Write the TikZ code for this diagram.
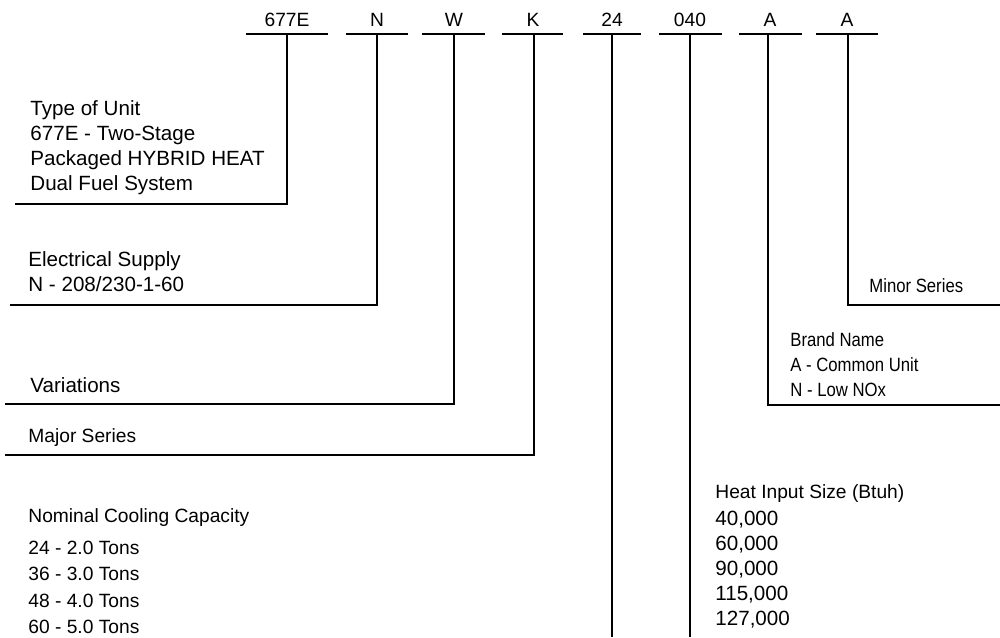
\documentclass[tikz,border=0pt]{standalone}
\usepackage{fontspec}
\setmainfont{Liberation Sans}
\newfontfamily\narrowfont[FakeStretch=0.87]{Liberation Sans}
\begin{document}
\begin{tikzpicture}[x=0.5pt,y=-0.5pt,
  code/.style={anchor=base,inner sep=0pt,font=\fontsize{9.6pt}{11pt}\selectfont},
  desc/.style={anchor=base west,inner sep=0pt,font=\fontsize{9.6pt}{11pt}\selectfont},
  bdesc/.style={anchor=base west,inner sep=0pt,font=\fontsize{10.3pt}{12pt}\selectfont},
  ndesc/.style={anchor=base west,inner sep=0pt,font=\narrowfont\fontsize{9.6pt}{11pt}\selectfont},
  bar/.style={line width=1.2pt},
  leg/.style={line width=1.2pt}]
\useasboundingbox (0,0) rectangle (1000,637);
% code letters
\node[code] (c1) at (287,26) {677E};
\node[code] (c2) at (377,26) {N};
\node[code] (c3) at (454,26) {W};
\node[code] (c4) at (533,26) {K};
\node[code] (c5) at (612,26) {24};
\node[code] (c6) at (690,26) {040};
\node[code] (c7) at (770,26) {A};
\node[code] (c8) at (847,26) {A};
% bars
\draw[bar] (246,34) -- (328,34);
\draw[bar] (346,34) -- (408,34);
\draw[bar] (422,34) -- (485,34);
\draw[bar] (502,34) -- (563,34);
\draw[bar] (583,34) -- (641,34);
\draw[bar] (659,34) -- (722,34);
\draw[bar] (739,34) -- (802,34);
\draw[bar] (816,34) -- (878,34);
% tee points
\coordinate (t1) at (287,34);
\coordinate (t2) at (377,34);
\coordinate (t3) at (454,34);
\coordinate (t4) at (534,34);
\coordinate (t5) at (612,34);
\coordinate (t6) at (690,34);
\coordinate (t7) at (768,34);
\coordinate (t8) at (848,34);
% leg ends
\coordinate (e1) at (15,204);
\coordinate (e2) at (10,305);
\coordinate (e3) at (5,404);
\coordinate (e4) at (5,455);
\coordinate (e5) at (612,637);
\coordinate (e6) at (690,637);
\coordinate (e7) at (1000,405);
\coordinate (e8) at (1000,305);
\draw[leg] (t1) |- (e1);
\draw[leg] (t2) |- (e2);
\draw[leg] (t3) |- (e3);
\draw[leg] (t4) |- (e4);
\draw[leg] (t5) -- (e5);
\draw[leg] (t6) -- (e6);
\draw[leg] (t7) |- (e7);
\draw[leg] (t8) |- (e8);
% descriptions
\node[bdesc] (d1a) at (30,115) {Type of Unit};
\node[bdesc] (d1b) at (30,140) {677E - Two-Stage};
\node[bdesc] (d1c) at (30,165) {Packaged HYBRID HEAT};
\node[bdesc] (d1d) at (30,190) {Dual Fuel System};
\node[bdesc] (d2a) at (28,266) {Electrical Supply};
\node[bdesc] (d2b) at (28,291) {N - 208/230-1-60};
\node[bdesc] (d3) at (30,392) {Variations};
\node[desc] (d4) at (28,442) {Major Series};
\node[desc] (d5a) at (28,522) {Nominal Cooling Capacity};
\node[desc] (d5b) at (28,554) {24 - 2.0 Tons};
\node[desc] (d5c) at (28,580) {36 - 3.0 Tons};
\node[desc] (d5d) at (28,607) {48 - 4.0 Tons};
\node[desc] (d5e) at (28,633) {60 - 5.0 Tons};
\node[desc] (d6a) at (715,498) {Heat Input Size (Btuh)};
\node[bdesc] (d6b) at (715,525) {40,000};
\node[bdesc] (d6c) at (715,550) {60,000};
\node[bdesc] (d6d) at (715,575) {90,000};
\node[bdesc] (d6e) at (715,600) {115,000};
\node[bdesc] (d6f) at (715,625) {127,000};
\node[ndesc] (d7a) at (790,346) {Brand Name};
\node[ndesc] (d7b) at (790,371) {A - Common Unit};
\node[ndesc] (d7c) at (790,396) {N - Low NOx};
\node[ndesc] (d8) at (869,292) {Minor Series};
\end{tikzpicture}
\end{document}
